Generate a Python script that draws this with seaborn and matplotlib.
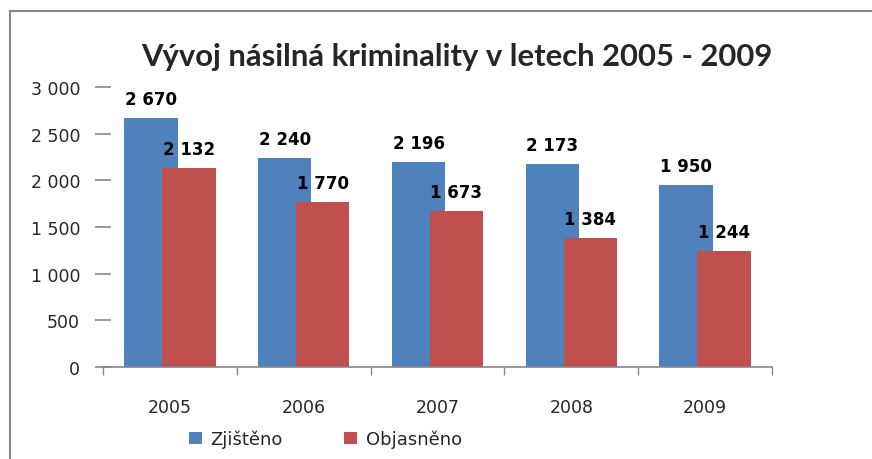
import pandas as pd
import seaborn as sns
import matplotlib.pyplot as plt
from matplotlib.ticker import FuncFormatter, FixedLocator
from matplotlib.patches import Rectangle

# data
years = ["2005", "2006", "2007", "2008", "2009"]
zjisteno = [2670, 2240, 2196, 2173, 1950]
objasneno = [2132, 1770, 1673, 1384, 1244]
series_names = ["Zjištěno", "Objasněno"]
colors = ["#4F81BD", "#C0504D"]

df = pd.DataFrame({
    "rok": years * 2,
    "pocet": zjisteno + objasneno,
    "serie": [series_names[0]] * len(years) + [series_names[1]] * len(years),
})

sns.set_style("white")
plt.rcParams["font.family"] = ["DejaVu Sans"]

def fmt(v):
    return f"{int(v):,}".replace(",", " ")

fig = plt.figure(figsize=(8.72, 4.6), dpi=100)
ax = fig.add_axes([103 / 872, 92 / 460, 669 / 872, 280 / 460])

sns.barplot(data=df, x="rok", y="pocet", hue="serie", palette=colors,
            width=0.57, saturation=1, linewidth=0, ax=ax)

# Excel-like overlapping bars
shifts = [-0.142, 0.142]
for cont, shift, vals in zip(ax.containers, shifts, [zjisteno, objasneno]):
    for i, bar in enumerate(cont):
        c = i + shift
        bar.set_width(0.40)
        bar.set_x(c - 0.20)
        ax.text(c, vals[i] + 205, fmt(vals[i]), ha="center", va="center",
                fontsize=12, fontweight="bold", color="black")

ax.set_ylim(0, 3000)
ax.set_xlim(-0.5, 4.5)
ax.set_yticks(range(0, 3001, 500))
ax.yaxis.set_major_formatter(FuncFormatter(lambda v, p: fmt(v)))
ax.tick_params(axis="y", direction="inout", length=11, width=1.2,
               color="#868686", pad=11, labelsize=12.5, left=True)

ax.xaxis.set_minor_locator(FixedLocator([k - 0.5 for k in range(len(years) + 1)]))
ax.tick_params(axis="x", which="major", length=0, pad=22, labelsize=12.5)
ax.tick_params(axis="x", which="minor", direction="out", length=6,
               width=1, color="#868686", bottom=True)

ax.set_xlabel("")
ax.set_ylabel("")
for s in ["top", "right", "left"]:
    ax.spines[s].set_visible(False)
ax.spines["bottom"].set_color("#868686")
ax.spines["bottom"].set_linewidth(1.2)

handles, labels = ax.get_legend_handles_labels()
ax.legend(handles, labels, loc="center left",
          bbox_to_anchor=(180 / 872, 1 - 440 / 460), bbox_transform=fig.transFigure,
          ncol=2, frameon=False, fontsize=13, handlelength=0.7, handleheight=0.7,
          handletextpad=0.5, columnspacing=3.4, borderpad=0)

fig.text(457 / 872, 1 - 57 / 460, "Vývoj násilná kriminality v letech 2005 - 2009",
         ha="center", va="center", fontsize=22.3, fontweight="bold",
         family=["Lato", "DejaVu Sans"])

fig.add_artist(Rectangle((10 / 872, -0.1), 1.2, 1 - 12 / 460 + 0.1,
                         transform=fig.transFigure, fill=False,
                         edgecolor="#868686", linewidth=1.5))

fig.savefig("out.png", dpi=100)
